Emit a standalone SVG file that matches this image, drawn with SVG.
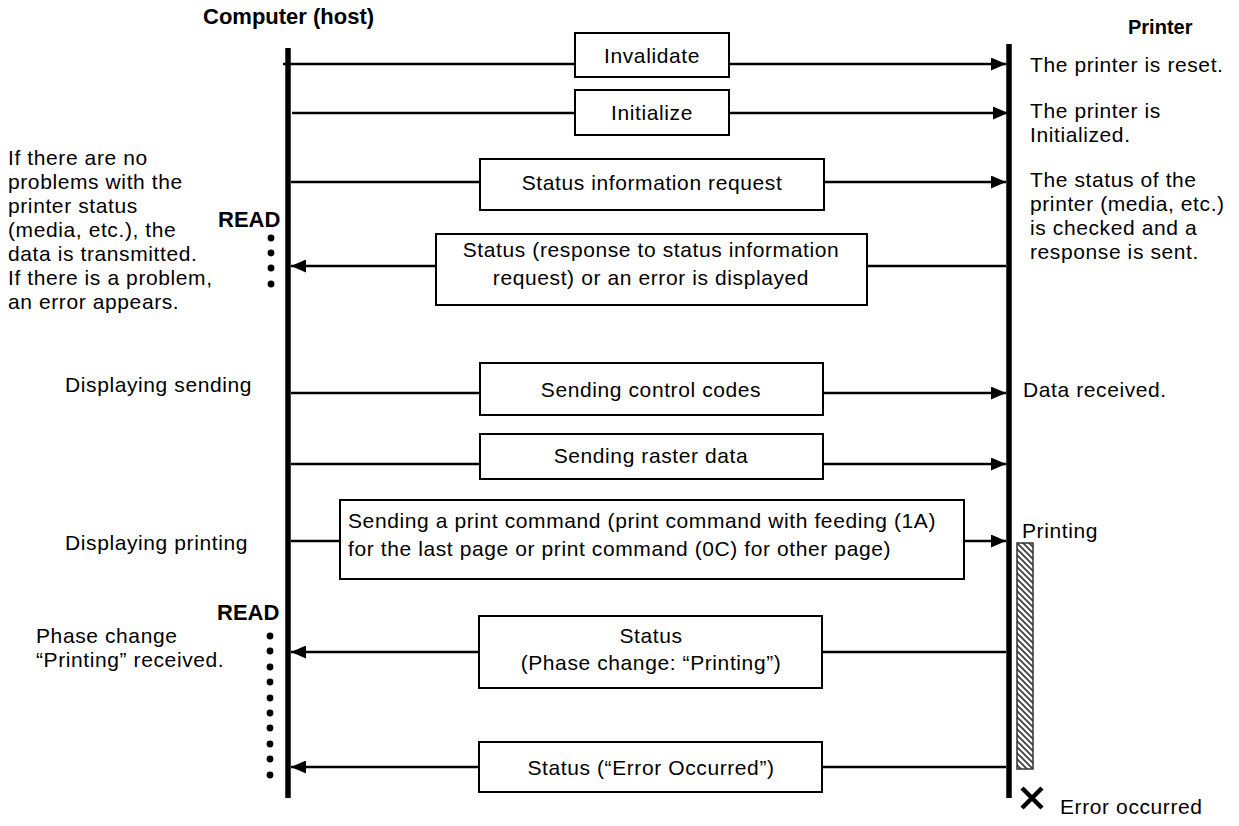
<svg xmlns="http://www.w3.org/2000/svg" width="1239" height="826" viewBox="0 0 1239 826">
<style>
text{font-family:"Liberation Sans",Arial,Helvetica,sans-serif;font-size:21px;letter-spacing:0.6px;fill:#000}
.b{font-weight:bold;font-size:22px;letter-spacing:0}
.c{text-anchor:middle}
.box{fill:#fff;stroke:#000;stroke-width:2}
.msg{stroke:#000;stroke-width:2.5;fill:none;marker-end:url(#ah)}
.life{stroke:#000;stroke-width:5.5}
.dot{fill:#000}
</style>
<defs>
<marker id="ah" markerUnits="userSpaceOnUse" markerWidth="15" markerHeight="13" refX="15" refY="6.5" orient="auto">
<path d="M0,0 L15,6.5 L0,13 z" fill="#000"/>
</marker>
<pattern id="hatch" patternUnits="userSpaceOnUse" width="6" height="6">
<rect width="6" height="6" fill="#fff"/>
<path d="M-1,-1 L7,7 M-4,2 L2,8 M4,-2 L10,4" stroke="#444" stroke-width="1.9"/>
</pattern>
</defs>
<rect width="1239" height="826" fill="#fff"/>

<g id="host">
<text class="b" x="203" y="24">Computer (host)</text>
<line class="life" x1="288" y1="48" x2="288" y2="798"/>
</g>
<g id="printer">
<text class="b" x="1128" y="34" style="font-size:20px">Printer</text>
<line class="life" x1="1009" y1="44" x2="1009" y2="798"/>
</g>

<g id="connectors">
<line class="msg" x1="283" y1="64" x2="1006" y2="64"/>
<line class="msg" x1="292" y1="113" x2="1008" y2="113"/>
<line class="msg" x1="291" y1="182" x2="1006" y2="182"/>
<line class="msg" x1="1006" y1="266" x2="291" y2="266"/>
<line class="msg" x1="291" y1="393" x2="1006" y2="393"/>
<line class="msg" x1="291" y1="464" x2="1006" y2="464"/>
<line class="msg" x1="291" y1="541" x2="1006" y2="541"/>
<line class="msg" x1="1006" y1="652" x2="291" y2="652"/>
<line class="msg" x1="1006" y1="767" x2="291" y2="767"/>
</g>

<g id="invalidate">
<rect class="box" x="575" y="33" width="154" height="44"/>
<text class="c" x="652" y="63">Invalidate</text>
</g>
<g id="initialize">
<rect class="box" x="575" y="90" width="154" height="45"/>
<text class="c" x="652" y="120">Initialize</text>
</g>
<g id="status-request">
<rect class="box" x="480" y="159" width="344" height="51"/>
<text class="c" x="652" y="190">Status information request</text>
</g>
<g id="status-response">
<rect class="box" x="436" y="234" width="431" height="71"/>
<text class="c" x="651" y="257">Status (response to status information</text>
<text class="c" x="651" y="285">request) or an error is displayed</text>
</g>
<g id="control-codes">
<rect class="box" x="480" y="363" width="343" height="52"/>
<text class="c" x="651" y="397">Sending control codes</text>
</g>
<g id="raster-data">
<rect class="box" x="480" y="434" width="343" height="45"/>
<text class="c" x="651" y="463">Sending raster data</text>
</g>
<g id="print-command">
<rect class="box" x="340" y="500" width="624" height="79"/>
<text x="348" y="528">Sending a print command (print command with feeding (1A)</text>
<text x="348" y="556">for the last page or print command (0C) for other page)</text>
</g>
<g id="status-phase">
<rect class="box" x="479" y="616" width="343" height="72"/>
<text class="c" x="651" y="643">Status</text>
<text class="c" x="651" y="670">(Phase change: “Printing”)</text>
</g>
<g id="status-error">
<rect class="box" x="479" y="742" width="343" height="50"/>
<text class="c" x="651" y="775">Status (“Error Occurred”)</text>
</g>

<g id="host-notes">
<text x="8" y="165">If there are no</text>
<text x="8" y="189">problems with the</text>
<text x="8" y="213">printer status</text>
<text x="8" y="237">(media, etc.), the</text>
<text x="8" y="261">data is transmitted.</text>
<text x="8" y="285">If there is a problem,</text>
<text x="8" y="309">an error appears.</text>
<text x="65" y="392">Displaying sending</text>
<text x="65" y="550">Displaying printing</text>
<text x="36" y="643">Phase change</text>
<text x="36" y="667">“Printing” received.</text>
</g>

<g id="read-1">
<text class="b" x="218" y="227">READ</text>
<circle class="dot" cx="271" cy="238" r="3.4"/>
<circle class="dot" cx="271" cy="253" r="3.4"/>
<circle class="dot" cx="271" cy="268" r="3.4"/>
<circle class="dot" cx="271" cy="284" r="3.4"/>
</g>
<g id="read-2">
<text class="b" x="217" y="620">READ</text>
<circle class="dot" cx="270" cy="636" r="3.4"/>
<circle class="dot" cx="270" cy="651" r="3.4"/>
<circle class="dot" cx="270" cy="667" r="3.4"/>
<circle class="dot" cx="270" cy="682" r="3.4"/>
<circle class="dot" cx="270" cy="698" r="3.4"/>
<circle class="dot" cx="270" cy="713" r="3.4"/>
<circle class="dot" cx="270" cy="728" r="3.4"/>
<circle class="dot" cx="270" cy="744" r="3.4"/>
<circle class="dot" cx="270" cy="759" r="3.4"/>
<circle class="dot" cx="270" cy="775" r="3.4"/>
</g>

<g id="printer-notes">
<text x="1030" y="72">The printer is reset.</text>
<text x="1030" y="118">The printer is</text>
<text x="1030" y="142">Initialized.</text>
<text x="1030" y="187">The status of the</text>
<text x="1030" y="211">printer (media, etc.)</text>
<text x="1030" y="235">is checked and a</text>
<text x="1030" y="259">response is sent.</text>
<text x="1023" y="397">Data received.</text>
</g>

<g id="printing">
<text x="1022" y="538">Printing</text>
<rect x="1017" y="543" width="16" height="226" fill="url(#hatch)" stroke="#333" stroke-width="1.5"/>
</g>
<g id="error-occurred">
<path d="M1022,788 L1042,808 M1042,788 L1022,808" stroke="#000" stroke-width="4.5"/>
<text x="1060" y="814">Error occurred</text>
</g>
</svg>
